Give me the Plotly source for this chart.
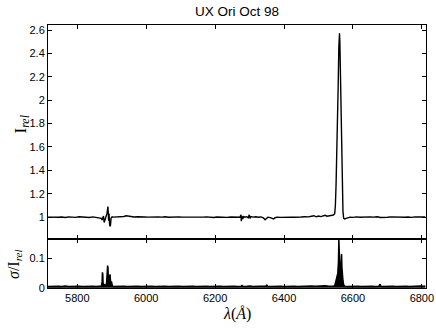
import plotly.graph_objects as go

# ---------------- top panel: relative intensity ----------------
wl_top = [
    5715, 5725, 5735, 5745, 5755, 5765, 5775, 5785, 5795, 5805, 5815, 5825, 5835, 5845, 5855, 5862,
    5866, 5870, 5872, 5874, 5876, 5878, 5880, 5883, 5886, 5889, 5891, 5892, 5894, 5896, 5898, 5901,
    5905, 5915, 5925, 5935, 5942, 5948, 5955, 5965, 5975, 5985, 5995, 6005, 6015, 6025, 6035, 6045,
    6055, 6065, 6075, 6085, 6095, 6105, 6115, 6125, 6135, 6145, 6155, 6165, 6175, 6185, 6195, 6205,
    6215, 6225, 6235, 6245, 6255, 6265, 6272,
    6275, 6276, 6278, 6280, 6283, 6287, 6292, 6296, 6299, 6301, 6304, 6310, 6318, 6325, 6333, 6340,
    6345, 6349, 6353, 6360, 6366, 6370, 6374, 6380, 6390, 6400, 6410, 6420, 6430, 6440, 6450, 6460,
    6470, 6480, 6487, 6493, 6500, 6507, 6513, 6519, 6525, 6532, 6538, 6543, 6547,
    6549, 6551, 6553, 6555, 6557, 6559, 6560, 6561, 6562, 6563, 6565, 6567, 6569, 6571, 6573, 6576,
    6580, 6585, 6592, 6600, 6610, 6620, 6630, 6640, 6650, 6660, 6670, 6680, 6690, 6700, 6710, 6720,
    6730, 6740, 6750, 6760, 6770, 6780, 6790, 6800, 6810,
]
i_rel = [
    1.000, 0.998, 1.002, 0.999, 1.001, 0.997, 1.002, 1.000, 0.998, 1.003, 0.999, 1.001, 0.997, 1.002, 0.999, 0.996,
    0.997, 0.990, 0.976, 0.995, 1.010, 0.955, 0.975, 1.000, 1.030, 1.090, 0.970, 1.030, 0.930, 0.922, 0.990, 1.003,
    1.000, 1.002, 1.000, 1.006, 1.012, 1.008, 1.003, 1.001, 1.003, 0.999, 1.001, 1.000, 1.002, 0.998, 1.001, 1.000,
    1.003, 0.999, 1.001, 0.998, 1.002, 1.000, 0.999, 1.002, 1.000, 0.998, 1.001, 1.000, 1.002, 0.999, 0.997, 1.001,
    0.999, 1.000, 0.998, 1.001, 0.999, 1.000, 0.999,
    1.020, 0.965, 1.010, 0.985, 1.005, 1.000, 1.004, 0.995, 1.020, 0.990, 1.005, 1.000, 1.003, 0.999, 1.002, 0.995,
    0.978, 0.990, 1.000, 0.996, 0.990, 0.985, 0.995, 1.000, 0.998, 1.000, 1.002, 1.000, 0.999, 1.003, 1.001, 1.004,
    1.002, 1.008, 1.012, 1.003, 1.010, 1.005, 1.012, 1.016, 1.008, 1.012, 1.010, 1.018, 1.030,
    1.100, 1.280, 1.480, 1.750, 2.100, 2.450, 2.560, 2.572, 2.500, 2.300, 1.900, 1.500, 1.200, 1.050, 0.990, 0.984,
    0.990, 0.996, 1.000, 0.998, 1.002, 0.999, 1.001, 0.998, 1.002, 1.000, 1.003, 0.997, 1.001, 0.999, 1.002, 1.000,
    0.998, 1.002, 0.999, 1.001, 0.998, 1.002, 1.000, 0.999, 1.001,
]

# ---------------- bottom panel: sigma / I_rel ----------------
wl_sig = [
    5715, 5725, 5735, 5745, 5755, 5765, 5775, 5785, 5795, 5805, 5815, 5825, 5835, 5845, 5855, 5862,
    5866, 5870, 5872, 5873, 5874, 5875, 5877, 5880, 5883, 5885, 5887, 5888, 5889, 5890, 5891, 5892,
    5894, 5895, 5896, 5897, 5899, 5900, 5902, 5905,
    5915, 5925, 5935, 5945, 5955, 5965, 5975, 5985, 5995, 6005, 6015, 6025, 6035, 6045, 6055, 6065,
    6075, 6085, 6095, 6105, 6115, 6125, 6135, 6145, 6155, 6165, 6175, 6185, 6195, 6205, 6215, 6225,
    6235, 6245, 6255, 6265, 6275, 6278, 6281, 6290, 6300, 6310, 6320, 6330, 6340, 6348, 6350, 6352,
    6360, 6370, 6380, 6390, 6400, 6410, 6420, 6430, 6440, 6450, 6460, 6470, 6480, 6490, 6500, 6510,
    6520, 6530, 6540,
    6545, 6548, 6550, 6552, 6554, 6556, 6558, 6559, 6560, 6561, 6563, 6565, 6566, 6567, 6568, 6569,
    6571, 6573, 6576,
    6585, 6595, 6605, 6615, 6625, 6635, 6645, 6655, 6665, 6675, 6679, 6681, 6685, 6695, 6705, 6715,
    6725, 6735, 6745, 6755, 6765, 6775, 6785, 6795, 6805, 6810,
]
sigma_rel = [
    0.004, 0.005, 0.004, 0.005, 0.004, 0.006, 0.004, 0.005, 0.004, 0.005, 0.004, 0.005, 0.004, 0.005, 0.004, 0.005,
    0.005, 0.006, 0.020, 0.053, 0.045, 0.010, 0.012, 0.008, 0.010, 0.015, 0.040, 0.076, 0.070, 0.030, 0.042, 0.020,
    0.035, 0.046, 0.030, 0.015, 0.022, 0.018, 0.006, 0.004,
    0.005, 0.004, 0.005, 0.004, 0.005, 0.004, 0.005, 0.004, 0.005, 0.004, 0.005, 0.004, 0.005, 0.004, 0.005, 0.004,
    0.005, 0.004, 0.005, 0.004, 0.005, 0.004, 0.005, 0.004, 0.005, 0.004, 0.005, 0.004, 0.005, 0.004, 0.005, 0.004,
    0.005, 0.004, 0.005, 0.004, 0.005, 0.008, 0.005, 0.004, 0.006, 0.004, 0.005, 0.004, 0.005, 0.006, 0.010, 0.005,
    0.004, 0.005, 0.004, 0.005, 0.004, 0.005, 0.004, 0.005, 0.004, 0.005, 0.006, 0.005, 0.006, 0.005, 0.006, 0.005,
    0.007, 0.005, 0.006,
    0.006, 0.010, 0.025, 0.035, 0.040, 0.050, 0.090, 0.166, 0.120, 0.060, 0.045, 0.050, 0.080, 0.116, 0.070, 0.040,
    0.025, 0.010, 0.005,
    0.004, 0.005, 0.004, 0.005, 0.004, 0.005, 0.004, 0.005, 0.004, 0.005, 0.012, 0.005, 0.004, 0.005, 0.004, 0.005,
    0.004, 0.005, 0.004, 0.005, 0.004, 0.005, 0.004, 0.006, 0.005, 0.006,
]

top_ticks = [1, 1.2, 1.4, 1.6, 1.8, 2, 2.2, 2.4, 2.6]
top_ticklabels = ["1", "1.2", "1.4", "1.6", "1.8", "2", "2.2", "2.4", "2.6"]
bot_ticks = [0, 0.1]
bot_ticklabels = ["0", "0.1"]
x_ticks = [5800, 6000, 6200, 6400, 6600, 6800]

TICKFONT = dict(family="Liberation Sans, Arial, sans-serif", size=11, color="black")
SERIF = "Liberation Serif, Times New Roman, serif"

fig = go.Figure()
fig.add_trace(go.Scatter(x=wl_top, y=i_rel, mode="lines",
                         line=dict(color="black", width=1.4),
                         xaxis="x", yaxis="y", showlegend=False, hoverinfo="skip"))
fig.add_trace(go.Scatter(x=wl_sig, y=sigma_rel, mode="lines", fill="tozeroy",
                         fillcolor="black", line=dict(color="black", width=1.5),
                         xaxis="x2", yaxis="y2", showlegend=False, hoverinfo="skip"))

axis_common = dict(showline=True, linecolor="black", linewidth=1, mirror="ticks",
                   ticks="inside", ticklen=4, tickcolor="black", tickwidth=1,
                   showgrid=False, zeroline=False, tickfont=TICKFONT, automargin=False)

split = 0.188
xr = [5715, 6812]
fig.update_layout(
    width=436, height=333,
    margin=dict(l=48, r=10, t=25, b=45),
    paper_bgcolor="white", plot_bgcolor="white",
    hovermode=False,
    title=dict(text="UX Ori Oct 98", x=0.5, xref="paper", y=1 - 11 / 333, yref="container",
               xanchor="center", yanchor="middle", automargin=False,
               font=dict(family="Liberation Sans, Arial, sans-serif", size=13.5, color="black")),
    xaxis=dict(domain=[0, 1], anchor="y", range=xr, tickvals=x_ticks, showticklabels=False, **axis_common),
    yaxis=dict(domain=[split, 1], anchor="x", range=[0.817, 2.643], tickvals=top_ticks,
               ticktext=top_ticklabels, **axis_common),
    xaxis2=dict(domain=[0, 1], anchor="y2", range=xr, tickvals=x_ticks,
                ticktext=[str(v) for v in x_ticks], **axis_common),
    yaxis2=dict(domain=[0, split], anchor="x2", range=[-0.001, 0.169], tickvals=bot_ticks,
                ticktext=bot_ticklabels, **axis_common),
    annotations=[
        dict(text="I<sub><i>rel</i></sub>", xref="paper", yref="paper", x=(21.5 - 48) / 378,
             y=(288 - 124) / 263, textangle=-90, showarrow=False, xanchor="center", yanchor="middle",
             font=dict(family=SERIF, size=17, color="black")),
        dict(text="<i>σ</i>/I<sub><i>rel</i></sub>", xref="paper", yref="paper", x=(14 - 48) / 378,
             y=(288 - 264) / 263, textangle=-90, showarrow=False, xanchor="center", yanchor="middle",
             font=dict(family=SERIF, size=16, color="black")),
        dict(text="<i>λ</i>(<i>Å</i>)", xref="paper", yref="paper", x=(237 - 48) / 378,
             y=(288 - 314) / 263, showarrow=False, xanchor="center", yanchor="middle",
             font=dict(family=SERIF, size=16, color="black")),
    ],
)

fig.write_html("out.html", config={"displayModeBar": False},
               post_script="document.body.style.margin='0';document.body.style.overflow='hidden';")
